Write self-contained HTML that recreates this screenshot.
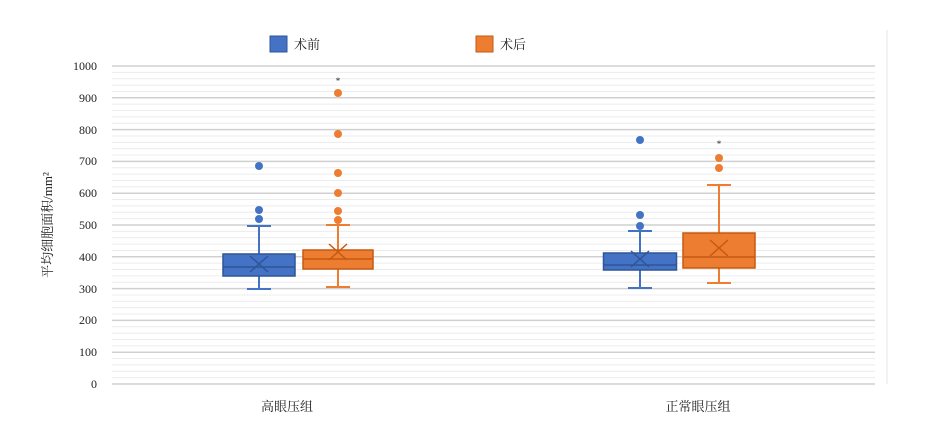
<!DOCTYPE html>
<html><head><meta charset="utf-8"><style>body{margin:0;background:#fff}</style></head><body>
<svg width="935" height="421" viewBox="0 0 935 421" xmlns="http://www.w3.org/2000/svg" font-family="Liberation Serif, Noto Serif CJK SC, serif">
<rect width="935" height="421" fill="#fff"/>
<g id="grid"></g>
<line x1="887" y1="30" x2="887" y2="384" stroke="#e4e4e4"/>
<g font-size="12" fill="#222" text-anchor="end">
<text x="97" y="388">0</text><text x="97" y="356">100</text><text x="97" y="324">200</text><text x="97" y="293">300</text><text x="97" y="261">400</text><text x="97" y="229">500</text><text x="97" y="197">600</text><text x="97" y="165">700</text><text x="97" y="134">800</text><text x="97" y="102">900</text><text x="97" y="70">1000</text>
</g>
<text transform="translate(52,225) rotate(-90)" font-size="13" text-anchor="middle" fill="#222">平均细胞面积/mm²</text>
<text x="287" y="411" font-size="13" text-anchor="middle" fill="#222">高眼压组</text>
<text x="698" y="411" font-size="13" text-anchor="middle" fill="#222">正常眼压组</text>
<rect x="270" y="36" width="17" height="16" fill="#4472c4" stroke="#2f5597"/>
<text x="294" y="49" font-size="13" fill="#222">术前</text>
<rect x="476" y="36" width="17" height="16" fill="#ed7d31" stroke="#c55a11"/>
<text x="500" y="49" font-size="13" fill="#222">术后</text>
<g id="boxes"></g>
</svg>
<script>
var g=document.getElementById('grid'),s='';
for(var v=0;v<=1000;v+=20){var y=384-v*0.318;var maj=v%100==0;s+='<line x1="112" x2="875" y1="'+y+'" y2="'+y+'" stroke="'+(maj?'#d0d0d0':'#ececec')+'" stroke-width="'+(maj?1.5:1)+'"/>';}
g.innerHTML=s;
function box(c,w,top,bot,med,wt,wb,mean,outs,col,dark,star){
var h='';var x=c-w/2;
h+='<line x1="'+c+'" x2="'+c+'" y1="'+wt+'" y2="'+top+'" stroke="'+col+'" stroke-width="2"/>';
h+='<line x1="'+c+'" x2="'+c+'" y1="'+bot+'" y2="'+wb+'" stroke="'+col+'" stroke-width="2"/>';
h+='<line x1="'+(c-12)+'" x2="'+(c+12)+'" y1="'+wt+'" y2="'+wt+'" stroke="'+col+'" stroke-width="2"/>';
h+='<line x1="'+(c-12)+'" x2="'+(c+12)+'" y1="'+wb+'" y2="'+wb+'" stroke="'+col+'" stroke-width="2"/>';
h+='<rect x="'+x+'" y="'+top+'" width="'+w+'" height="'+(bot-top)+'" fill="'+col+'" stroke="'+dark+'" stroke-width="1.5"/>';
h+='<line x1="'+x+'" x2="'+(x+w)+'" y1="'+med+'" y2="'+med+'" stroke="'+dark+'" stroke-width="1.5"/>';
h+='<path d="M'+(c-9)+' '+(mean-8)+'L'+(c+9)+' '+(mean+8)+'M'+(c+9)+' '+(mean-8)+'L'+(c-9)+' '+(mean+8)+'" stroke="'+dark+'" stroke-width="1.5"/>';
outs.forEach(function(o){h+='<circle cx="'+c+'" cy="'+o+'" r="4" fill="'+col+'"/>';});
if(star)h+='<text x="'+c+'" y="'+(star+4)+'" font-size="9" text-anchor="middle" fill="#222">*</text>';
return h;}
var b='';
b+=box(259,72,254,276,267,226,289,264,[166,210,219],'#4472c4','#2f5597');
b+=box(338,70,250,269,259,225,287,252,[93,134,173,193,211,220],'#ed7d31','#c55a11',80);
b+=box(640,73,253,270,265,231,288,259,[140,215,226],'#4472c4','#2f5597');
b+=box(719,72,233,268,257,185,283,248,[158,168],'#ed7d31','#c55a11',143);
document.getElementById('boxes').innerHTML=b;
</script>
</body></html>
